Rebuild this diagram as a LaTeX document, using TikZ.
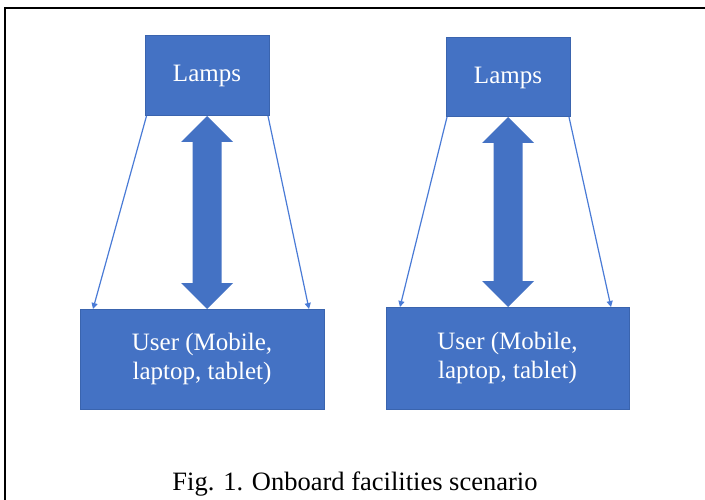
\documentclass[tikz,border=0pt]{standalone}
\usepackage{fontspec}
\setmainfont{Liberation Serif}
\usetikzlibrary{calc,arrows.meta}
\definecolor{boxblue}{HTML}{4472C4}
\definecolor{boxedge}{HTML}{3A64AE}
\definecolor{linkblue}{HTML}{4A7BD6}
\tikzset{
  box/.style={draw=boxedge, line width=1pt, fill=boxblue, text=white, inner sep=0pt, outer sep=0pt,
    align=center, font=\fontsize{25}{28.5}\selectfont},
  link/.style={draw=linkblue, line width=1.2pt, -{Triangle[length=6pt,width=6pt]}},
  blockarrow/.style={fill=boxblue, draw=none},
  frame/.style={line width=2pt, draw=black}
}
\begin{document}
\begin{tikzpicture}[x=1pt,y=-1pt]
\useasboundingbox (0,0) rectangle (705,500);
\draw[frame] (5,500) -- (5,8) -- (705,8);
% left group
\node[box, minimum width=124, minimum height=80] (L1) at (207,76) {Lamps};
\node[box, minimum width=244, minimum height=100] (U1) at (202,359) {User (Mobile,\\laptop, tablet)};
% right group
\node[box, minimum width=124, minimum height=79] (L2) at (508,77.5) {Lamps};
\node[box, minimum width=243, minimum height=102] (U2) at (507.5,358) {User (Mobile,\\laptop, tablet)};
% thin arrows
\coordinate (t1a) at ($(U1.north west)+(13,0)$);
\coordinate (t1b) at ($(U1.north east)+(-15,0)$);
\coordinate (t2a) at ($(U2.north west)+(14,0)$);
\coordinate (t2b) at ($(U2.north east)+(-18,0)$);
\draw[link] ($(L1.south west)+(1.5,0)$) -- (t1a);
\draw[link] ($(L1.south east)+(-1,0)$) -- (t1b);
\draw[link] ($(L2.south west)+(1,0)$) -- (t2a);
\draw[link] ($(L2.south east)+(-1,0)$) -- (t2b);
% block double arrows
\coordinate (b1) at (L1.south |- U1.north);
\coordinate (b2) at (L2.south |- U2.north);
\fill[blockarrow] (L1.south) -- ++(26,26) -- ++(-11.5,0) -- ($(b1)+(14.5,-26)$) -- ++(11.5,0) -- (b1)
  -- ++(-26,-26) -- ++(11.5,0) -- ($(L1.south)+(-14.5,26)$) -- ++(-11.5,0) -- cycle;
\fill[blockarrow] (L2.south) -- ++(26,26) -- ++(-11.5,0) -- ($(b2)+(14.5,-26)$) -- ++(11.5,0) -- (b2)
  -- ++(-26,-26) -- ++(11.5,0) -- ($(L2.south)+(-14.5,26)$) -- ++(-11.5,0) -- cycle;
% caption
\node[font=\fontsize{26.5}{30}\selectfont, inner sep=0pt] (cap) at (355,484) {Fig. 1. Onboard facilities scenario};
\end{tikzpicture}
\end{document}
